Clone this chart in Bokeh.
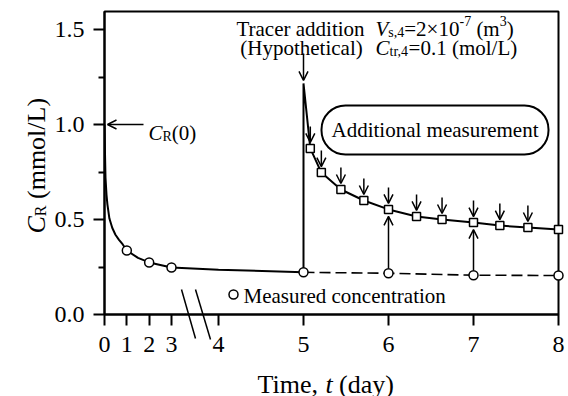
import numpy as np
from bokeh.plotting import figure
from bokeh.models import Range1d, FixedTicker, Arrow, OpenHead, ColumnDataSource
from bokeh.core.properties import value
from bokeh.embed import file_html
from bokeh.resources import INLINE

# ---------------- data ----------------
x_tick_days = [0, 1, 2, 3, 4, 5, 6, 7, 8]
x_tick_labels = ["0", "1", "2", "3", "4", "5", "6", "7", "8"]
y_tick_vals = [0.0, 0.5, 1.0, 1.5]
y_tick_labels = ["0.0", "0.5", "1.0", "1.5"]
y_minor_vals = [0.25, 0.75, 1.25]

# model curve before tracer addition
t_model_pre = [0.0, 0.01, 0.02, 0.045, 0.09, 0.13, 0.22, 0.35, 0.49, 0.65, 0.81, 1.0, 1.5, 2.0, 3.0, 4.0, 5.0]
c_model_pre = [1.0, 0.93, 0.86, 0.72, 0.63, 0.58, 0.505, 0.455, 0.420, 0.393, 0.370, 0.337, 0.298, 0.274, 0.247, 0.236, 0.222]
# model curve after (hypothetical) tracer addition
t_model_post = [5.0, 5.0, 5.08, 5.21, 5.44, 5.71, 6.0, 6.33, 6.63, 7.0, 7.31, 7.64, 8.0]
c_model_post = [0.222, 1.216, 0.874, 0.747, 0.658, 0.600, 0.553, 0.516, 0.500, 0.484, 0.468, 0.458, 0.447]

# measured concentration (circles)
t_meas = [1, 2, 3, 5, 6, 7, 8]
c_meas = [0.337, 0.274, 0.247, 0.222, 0.217, 0.207, 0.205]
# dashed continuation without tracer
t_dash = [5, 6, 7, 8]
c_dash = [0.222, 0.217, 0.207, 0.205]

# additional measurements (squares)
t_add = [5.08, 5.21, 5.44, 5.71, 6.0, 6.33, 6.63, 7.0, 7.31, 7.64, 8.0]
c_add = [0.874, 0.747, 0.658, 0.600, 0.553, 0.516, 0.500, 0.484, 0.468, 0.458, 0.447]

# comparison days (up arrows)
t_cmp = [6, 7]
c_cmp_low = [0.217, 0.207]
c_cmp_high = [0.553, 0.484]

c0 = 1.0
t_spike = 5.0
c_spike = 1.216

# ---------------- broken time axis ----------------
EARLY = 22.33 / 85.0      # compressed scale for days 0..3
U4 = 114.0 / 85.0         # display position of day 4


def u(t):
    t = np.asarray(t, dtype=float)
    mid = 3 * EARLY + (t - 3) * (U4 - 3 * EARLY)
    return np.where(t <= 3, t * EARLY, np.where(t >= 4, U4 + (t - 4), mid))


# pixel helpers for annotation placement
FL, FB, SX, SY = 104.0, 314.0, 85.0, 190.0


def X(px):
    return (px - FL) / SX


def Y(py):
    return (FB - py) / SY


FONT = "'Liberation Serif', 'Times New Roman', serif"

p = figure(width=568, height=396,
           x_range=Range1d(0, float(u(8))), y_range=Range1d(0, 303.0 / 190.0),
           output_backend="svg", toolbar_location=None,
           min_border_left=104, min_border_right=10,
           min_border_top=11, min_border_bottom=82)
p.xgrid.visible = False
p.ygrid.visible = False
p.outline_line_color = "black"
p.outline_line_width = 2
p.outline_line_alpha = 1.0
p.background_fill_color = "white"
p.border_fill_color = "white"

xa = p.xaxis[0]
xt = [float(v) for v in u(x_tick_days)]
xa.ticker = FixedTicker(ticks=xt, minor_ticks=[])
xa.major_label_overrides = {v: lab for v, lab in zip(xt, x_tick_labels)}
ya = p.yaxis[0]
ya.ticker = FixedTicker(ticks=y_tick_vals, minor_ticks=y_minor_vals)
ya.major_label_overrides = {v: lab for v, lab in zip(y_tick_vals, y_tick_labels)}
for ax in (xa, ya):
    ax.axis_line_width = 2
    ax.axis_line_color = "black"
    ax.major_tick_line_width = 2
    ax.major_tick_line_color = "black"
    ax.minor_tick_line_width = 2
    ax.minor_tick_line_color = "black"
    ax.major_tick_in = 0
    ax.major_tick_out = 11
    ax.minor_tick_in = 0
    ax.major_label_text_font = FONT
    ax.major_label_text_font_size = "24px"
    ax.major_label_text_color = "black"
xa.minor_tick_out = 0
ya.minor_tick_out = 6
xa.major_label_standoff = 11
ya.major_label_standoff = 9

# ---------------- curves ----------------
p.line(u(t_model_pre), c_model_pre, line_color="black", line_width=2)
p.line(u(t_model_post), c_model_post, line_color="black", line_width=2)
p.line(u(t_dash), c_dash, line_color="black", line_width=1.6, line_dash="11 5")

# arrows down onto the additional measurements (all but the last)
down_src = ColumnDataSource(dict(x=u(t_add[:-1]),
                                 ys=np.array(c_add[:-1]) + 22 / SY,
                                 ye=np.array(c_add[:-1]) + 6 / SY))
p.add_layout(Arrow(end=OpenHead(size=9, line_width=1.5, line_color="black"),
                   x_start="x", y_start="ys", x_end="x", y_end="ye",
                   line_width=1.5, line_color="black", source=down_src))
# arrows up from measured to additional (comparison days)
up_src = ColumnDataSource(dict(x=u(t_cmp),
                               ys=np.array(c_cmp_low) + 5 / SY,
                               ye=np.array(c_cmp_high) - 7 / SY))
p.add_layout(Arrow(end=OpenHead(size=9, line_width=1.5, line_color="black"),
                   x_start="x", y_start="ys", x_end="x", y_end="ye",
                   line_width=1.5, line_color="black", source=up_src))

r1 = p.scatter(u(t_meas), c_meas, marker="circle", size=9, fill_color="white",
               line_color="black", line_width=1.5)
r2 = p.scatter(u(t_add), c_add, marker="square", size=8, fill_color="white",
               line_color="black", line_width=1.5)
r1.level = "overlay"
r2.level = "overlay"

# tracer addition arrow
p.add_layout(Arrow(end=OpenHead(size=9, line_width=1.5, line_color="black"),
                   x_start=float(u(t_spike)), y_start=c_spike + 30 / SY,
                   x_end=float(u(t_spike)), y_end=c_spike + 3 / SY,
                   line_width=1.5, line_color="black"))
# C_R(0) arrow
p.add_layout(Arrow(end=OpenHead(size=9, line_width=1.5, line_color="black"),
                   x_start=X(143), y_start=c0, x_end=float(u(0)) + 3 / SX, y_end=c0,
                   line_width=1.5, line_color="black"))

# axis break marks
rb = p.segment(x0=[X(181), X(195)], y0=[Y(289), Y(289)],
               x1=[X(195), X(210)], y1=[Y(338), Y(339)],
               line_color="black", line_width=1.5)
rb.level = "overlay"

# rounded box
p.quad(left=X(321), right=X(548), top=Y(105), bottom=Y(154), border_radius=24,
       fill_color=None, line_color="black", line_width=2)

# legend circle
rl = p.scatter([X(233)], [Y(294)], marker="circle", size=9, fill_color="white",
               line_color="black", line_width=1.5)
rl.level = "overlay"


def lab(text, px, py, size=21, align="left", baseline="alphabetic", style="normal", angle=0.0):
    r = p.text(x=[X(px)], y=[Y(py)], text=[text], text_font=value(FONT),
               text_font_size=value(f"{size}px"), text_font_style=value(style),
               text_align=value(align), text_baseline=value(baseline),
               text_color="black", angle=angle)
    r.level = "overlay"


# texts
lab("Tracer addition", 300, 28, align="center")
lab("(Hypothetical)", 301, 47, align="center")

# V_s,4 = 2x10^-7 (m^3)
x0 = 375
lab("V", x0, 28, style="italic"); x0 += 0.611 * 21
lab("s,4", x0, 32, size=14); x0 += 1.139 * 14
lab("=2\u00d710", x0, 28); x0 += 2.628 * 21
lab("-7", x0, 20, size=14); x0 += 0.833 * 14 + 0.25 * 21
lab("(m", x0, 28); x0 += 1.111 * 21
lab("3", x0, 20, size=14); x0 += 0.5 * 14
lab(")", x0, 28)
# C_tr,4 = 0.1 (mol/L)
x0 = 375
lab("C", x0, 47, style="italic"); x0 += 0.667 * 21
lab("tr,4", x0, 51, size=14); x0 += 1.361 * 14
lab("=0.1 (mol/L)", x0, 47)

# C_R(0)
x0 = 148
lab("C", x0, 132, style="italic"); x0 += 0.667 * 21
lab("R", x0, 136, size=14); x0 += 0.667 * 14
lab("(0)", x0, 132)

lab("Additional measurement", 434.5, 129, align="center", baseline="middle")
lab("Measured concentration", 243, 295, baseline="middle")

# x axis label
x0 = 257
lab("Time,", x0, 384, size=26); x0 += 2.611 * 26
lab("t", x0, 384, size=26, style="italic"); x0 += 0.528 * 26
lab("(day)", x0, 384, size=26)

# y axis label (rotated)
y0 = 233
lab("C", 36, y0, size=26, style="italic", angle=np.pi / 2); y0 -= 0.667 * 26
lab("R", 40, y0, size=16, angle=np.pi / 2); y0 -= 0.667 * 16 + 0.25 * 26
lab("(mmol/L)", 36, y0, size=26, angle=np.pi / 2)

open("out.html", "w").write(file_html(p, INLINE))
